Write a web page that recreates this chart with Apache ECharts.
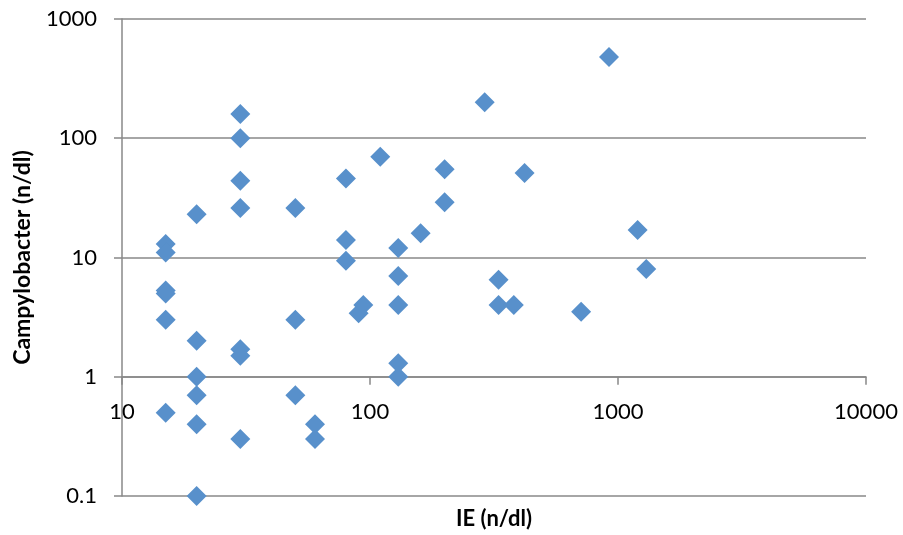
<!DOCTYPE html>
<html>
<head>
<meta charset="utf-8">
<title>Campylobacter vs IE</title>
<script src="https://cdn.jsdelivr.net/npm/echarts@6/dist/echarts.min.js"></script>
<style>
  html, body { margin: 0; padding: 0; background: #ffffff; }
  #chart { width: 903px; height: 535px; }
</style>
</head>
<body>
<div id="chart"></div>
<script>
// IE concentration (n/dl) for each sample
const ieValues = [
  15, 15, 15, 15, 15, 15,
  20, 20, 20, 20, 20, 20,
  30, 30, 30, 30, 30, 30, 30,
  50, 50, 50,
  60, 60,
  80, 80, 80,
  90, 94,
  110,
  130, 130, 130, 130, 130,
  160,
  200, 200,
  290,
  330, 330,
  380,
  420,
  710,
  920,
  1200,
  1300
];

// Campylobacter concentration (n/dl) for the same samples
const campyValues = [
  13, 11, 5.3, 5, 3, 0.5,
  23, 2, 1, 0.7, 0.4, 0.1,
  160, 100, 44, 26, 1.7, 1.5, 0.3,
  26, 3, 0.7,
  0.4, 0.3,
  46, 14, 9.4,
  3.4, 4,
  70,
  12, 7, 4, 1.3, 1,
  16,
  55, 29,
  200,
  6.5, 4,
  4,
  51,
  3.5,
  480,
  17,
  8
];

// Axis ranges (decades)
const xRange = [10, 10000];
const yRange = [0.1, 1000];

const xTitle = 'IE (n/dl)';
const yTitle = 'Campylobacter (n/dl)';

const points = ieValues.map((x, i) => [x, campyValues[i]]);

const axisGrey = '#888888';
const fontFamily = 'Lato, "Open Sans", sans-serif';

const chart = echarts.init(document.getElementById('chart'), null, { renderer: 'canvas' });

chart.setOption({
  backgroundColor: '#ffffff',
  animation: false,
  grid: {
    left: 122,
    right: 37,
    top: 19,
    bottom: 39,
    containLabel: false,
    outerBoundsMode: 'none'
  },
  xAxis: {
    type: 'log',
    logBase: 10,
    min: xRange[0],
    max: xRange[1],
    position: 'bottom',
    // the horizontal axis crosses the vertical one at y = 1
    offset: -119.3,
    name: xTitle,
    nameLocation: 'middle',
    nameGap: 131,
    nameTextStyle: { fontFamily, fontSize: 22, fontWeight: 'bold', color: '#000' },
    axisLine: { show: true, lineStyle: { color: axisGrey, width: 1.5 } },
    axisTick: { show: true, inside: false, length: 8, lineStyle: { color: axisGrey, width: 1.5 } },
    minorTick: { show: false },
    splitLine: { show: false },
    axisLabel: {
      show: true,
      margin: 24,
      fontFamily,
      fontSize: 22,
      color: '#000',
      showMinLabel: true,
      showMaxLabel: true,
      formatter: v => String(Math.round(v))
    }
  },
  yAxis: {
    type: 'log',
    logBase: 10,
    min: yRange[0],
    max: yRange[1],
    name: yTitle,
    nameLocation: 'middle',
    nameRotate: 90,
    nameGap: 88,
    nameTextStyle: { fontFamily, fontSize: 23, fontWeight: 'bold', color: '#000' },
    axisLine: { show: true, lineStyle: { color: axisGrey, width: 1.5 } },
    axisTick: { show: true, inside: false, length: 8, lineStyle: { color: axisGrey, width: 1.5 } },
    minorTick: { show: false },
    splitLine: { show: true, lineStyle: { color: axisGrey, width: 1.5 } },
    axisLabel: {
      show: true,
      margin: 25,
      fontFamily,
      fontSize: 22,
      color: '#000',
      showMinLabel: true,
      showMaxLabel: true,
      formatter: v => String(+Number(v).toPrecision(4))
    }
  },
  series: [{
    type: 'scatter',
    data: points,
    symbol: 'diamond',
    symbolSize: 20,
    itemStyle: { color: '#5890CB', opacity: 1 },
    emphasis: { disabled: true }
  }]
});
</script>
</body>
</html>
